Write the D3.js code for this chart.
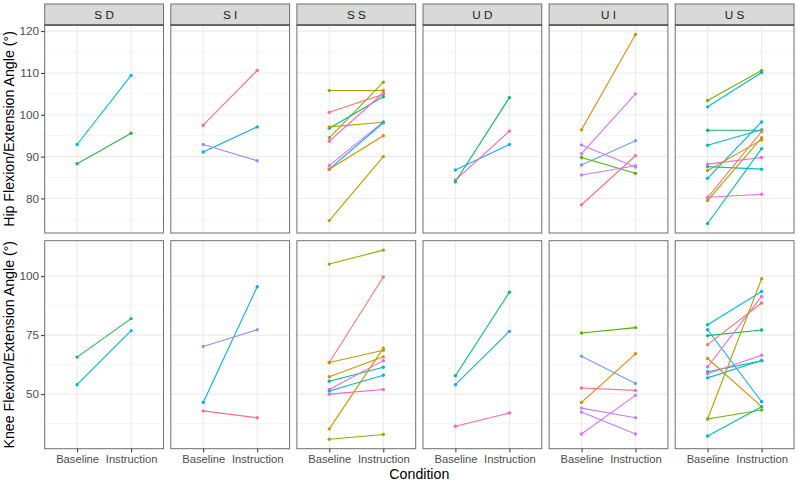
<!DOCTYPE html>
<html>
<head>
<meta charset="utf-8">
<script src="https://cdn.jsdelivr.net/npm/d3@7"></script>
<style>
  body { margin: 0; background: #fff; }
  text { font-family: "Liberation Sans", Arial, sans-serif; }
</style>
</head>
<body>
<div id="chart"></div>
<script>

//Facets and conditions
var groups = ["SD", "SI", "SS", "UD", "UI", "US"];
var groupLabels = ["S D", "S I", "S S", "U D", "U I", "U S"];
var conditions = ["Baseline", "Instruction"];

//One entry per participant (group is the first two letters)
var participants = ["SD01", "SD02",
                    "SI01", "SI02", "SI03",
                    "SS01", "SS02", "SS03", "SS04", "SS05", "SS06", "SS07", "SS08", "SS09", "SS10",
                    "UD01", "UD02", "UD03",
                    "UI01", "UI02", "UI03", "UI04", "UI05", "UI06", "UI07",
                    "US01", "US02", "US03", "US04", "US05", "US06", "US07", "US08", "US09", "US10", "US11", "US12"];

var hipBaseline    = [92.9, 88.3,
                      97.5, 91.1, 92.9,
                      105.8, 94.5, 100.6, 96.8, 97.1, 93.7, 87.9, 87.0, 87.0, 74.7,
                      86.8, 84.4, 84.0,
                      96.4, 90.7, 92.8, 88.0, 89.8, 85.6, 78.5,
                      103.4, 101.9, 96.3, 92.7, 84.8, 88.2, 87.6, 86.7, 80.2, 79.5, 80.3, 74.0];
var hipInstruction = [109.4, 95.6,
                      110.6, 97.1, 89.0,
                      105.8, 107.8, 104.9, 104.3, 98.2, 105.2, 98.3, 98.1, 95.0, 90.0,
                      92.9, 96.1, 104.1,
                      119.2, 105.0, 87.5, 93.8, 86.0, 87.8, 90.2,
                      110.6, 110.1, 96.3, 96.4, 98.3, 89.8, 87.0, 94.0, 96.0, 94.5, 81.0, 91.9];
var kneeBaseline    = [54.0, 65.7,
                       42.9, 46.5, 70.2,
                       105.1, 30.9, 63.4, 55.5, 63.4, 50.0, 52.0, 51.3, 57.4, 35.3,
                       54.0, 36.4, 57.8,
                       46.5, 33.1, 42.4, 66.1, 75.9, 44.1, 52.6,
                       39.5, 79.4, 74.8, 59.5, 77.3, 61.6, 56.9, 65.1, 71.0, 39.5, 58.6, 32.3];
var kneeInstruction = [76.9, 82.0,
                       40.0, 95.5, 77.3,
                       111.0, 32.9, 99.6, 61.4, 68.6, 52.0, 64.2, 58.0, 65.8, 69.5,
                       76.6, 42.0, 93.2,
                       67.1, 49.5, 33.1, 54.5, 78.2, 40.0, 51.6,
                       43.3, 93.5, 77.2, 64.1, 46.8, 91.4, 64.3, 44.7, 88.6, 98.9, 66.5, 44.7];

//Axis ticks
var hipTicks = [80, 90, 100, 110, 120];
var hipMinor = [75, 85, 95, 105, 115];
var kneeTicks = [50, 75, 100];
var kneeMinor = [37.5, 62.5, 87.5, 112.5];

//Participant colours
var participantColors = ["#00BCD8", "#24B64A",
                         "#FF6C91", "#00ADFA", "#9F8CFF",
                         "#A3A500", "#8FAA00", "#F8766D", "#00BC8E", "#B79F00", "#FF62BC", "#F066EA", "#00B2F3", "#D89000", "#C99800",
                         "#1FA6FF", "#FD65AC", "#00BD6A",
                         "#E58700", "#DC71FA", "#C77CFF", "#6F9CFF", "#4CB400", "#B983FF", "#F8728A",
                         "#7CAE00", "#00BCD8", "#16B65E", "#00C0AB", "#00B0F6", "#F564E3", "#00BFC4", "#DB8E00", "#F37B59", "#AFA200", "#EC69EF", "#00C19A"];

var makeChart = function() {

    //Width and Height
    var w = 799;
    var h = 484;
    var plotLeft = 44.7, plotRight = 794;
    var gap = 7.3;
    var panelW = (plotRight - plotLeft - gap * (groups.length - 1)) / groups.length;
    var stripTop = 4, stripH = 21;
    var rowTops = [25, 240.7];
    var rowH = 208;
    var borderColor = "#6E6E6E";

    var color = d3.scaleOrdinal(participants, participantColors);

    var rows = [
        {title: "Hip Flexion/Extension Angle (°)", b: hipBaseline, i: hipInstruction, ticks: hipTicks, minor: hipMinor},
        {title: "Knee Flexion/Extension Angle (°)", b: kneeBaseline, i: kneeInstruction, ticks: kneeTicks, minor: kneeMinor}
    ];

    var chart = d3.select("#chart")
                    .append("svg")
                    .attr("width", w)
                    .attr("height", h);

    rows.forEach(function(row, r) {
        var top = rowTops[r];
        var all = row.b.concat(row.i);
        var lo = d3.min(all), hi = d3.max(all);
        var pad = (hi - lo) * 0.05;

        var y = d3.scaleLinear()
                    .domain([lo - pad, hi + pad])
                    .range([top + rowH, top]);

        groups.forEach(function(gr, k) {
            var left = plotLeft + k * (panelW + gap);

            var x = d3.scalePoint()
                        .domain(conditions)
                        .range([left, left + panelW])
                        .padding(0.6);

            var panel = chart.append("g");

            panel.append("rect")
                .attr("x", left).attr("y", top)
                .attr("width", panelW).attr("height", rowH)
                .attr("fill", "#fff");

            //Gridlines
            panel.selectAll(".minor")
                .data(row.minor)
                .join("line")
                .attr("x1", left).attr("x2", left + panelW)
                .attr("y1", d => y(d)).attr("y2", d => y(d))
                .attr("stroke", "#EBEBEB").attr("stroke-width", 0.55);

            panel.selectAll(".major")
                .data(row.ticks)
                .join("line")
                .attr("x1", left).attr("x2", left + panelW)
                .attr("y1", d => y(d)).attr("y2", d => y(d))
                .attr("stroke", "#EBEBEB").attr("stroke-width", 1.1);

            panel.selectAll(".vgrid")
                .data(conditions)
                .join("line")
                .attr("x1", d => x(d)).attr("x2", d => x(d))
                .attr("y1", top).attr("y2", top + rowH)
                .attr("stroke", "#EBEBEB").attr("stroke-width", 1.1);

            //Lines and points
            var idx = d3.range(participants.length).filter(j => participants[j].slice(0, 2) === gr);

            panel.selectAll(".pair")
                .data(idx)
                .join("line")
                .attr("x1", x("Baseline")).attr("x2", x("Instruction"))
                .attr("y1", j => y(row.b[j])).attr("y2", j => y(row.i[j]))
                .attr("stroke", j => color(participants[j]))
                .attr("stroke-width", 1.1);

            conditions.forEach(function(c) {
                var vals = c === "Baseline" ? row.b : row.i;
                panel.selectAll(".pt" + c)
                    .data(idx)
                    .join("circle")
                    .attr("cx", x(c))
                    .attr("cy", j => y(vals[j]))
                    .attr("r", 1.7)
                    .attr("fill", j => color(participants[j]));
            });

            //Panel border
            panel.append("rect")
                .attr("x", left).attr("y", top)
                .attr("width", panelW).attr("height", rowH)
                .attr("fill", "none")
                .attr("stroke", borderColor).attr("stroke-width", 1);

            //Strips
            if (r === 0) {
                panel.append("rect")
                    .attr("x", left).attr("y", stripTop)
                    .attr("width", panelW).attr("height", stripH)
                    .attr("fill", "#D9D9D9")
                    .attr("stroke", borderColor).attr("stroke-width", 1);
                panel.append("line")
                    .attr("x1", left).attr("x2", left + panelW)
                    .attr("y1", top).attr("y2", top)
                    .attr("stroke", "#333").attr("stroke-width", 1);
                panel.append("text")
                    .attr("x", left + panelW / 2)
                    .attr("y", stripTop + stripH / 2 + 4)
                    .attr("text-anchor", "middle")
                    .attr("font-size", 11.7)
                    .attr("fill", "#1A1A1A")
                    .text(groupLabels[k]);
            }

            //X axis on bottom row
            if (r === rows.length - 1) {
                var xAxis = d3.axisBottom(x).tickSizeInner(3.7).tickSizeOuter(0).tickPadding(3);
                var gx = chart.append("g")
                    .attr("transform", "translate(0," + (top + rowH) + ")")
                    .call(xAxis);
                gx.select(".domain").remove();
                gx.selectAll("line").attr("stroke", "#333");
                gx.selectAll("text")
                    .attr("font-size", 11.2)
                    .attr("fill", "#4D4D4D")
                    .attr("font-family", "Liberation Sans, Arial, sans-serif");
            }
        });

        //Y axis
        var yAxis = d3.axisLeft(y).tickValues(row.ticks).tickSizeInner(3.7).tickSizeOuter(0).tickPadding(2);
        var gy = chart.append("g")
            .attr("transform", "translate(" + plotLeft + ",0)")
            .call(yAxis);
        gy.select(".domain").remove();
        gy.selectAll("line").attr("stroke", "#333");
        gy.selectAll("text")
            .attr("font-size", 11.7)
            .attr("fill", "#4D4D4D")
            .attr("font-family", "Liberation Sans, Arial, sans-serif");

        chart.append("text")
            .attr("transform", "translate(14," + (top + rowH / 2) + ") rotate(-90)")
            .attr("text-anchor", "middle")
            .attr("font-size", 14.2)
            .attr("fill", "#000")
            .text(row.title);
    });

    //X title
    chart.append("text")
        .attr("x", (plotLeft + plotRight) / 2)
        .attr("y", 478.5)
        .attr("text-anchor", "middle")
        .attr("font-size", 14.2)
        .attr("fill", "#000")
        .text("Condition");
};

makeChart();
</script>
</body>
</html>
